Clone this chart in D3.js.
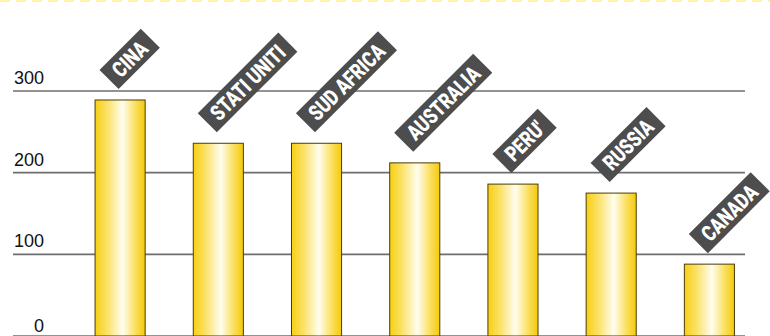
<!DOCTYPE html>
<html>
<head>
<meta charset="utf-8">
<script src="https://cdn.jsdelivr.net/npm/d3@7"></script>
<style>
  html, body { margin: 0; padding: 0; background: #fff; }
  svg { display: block; }
  .tick-label { font-family: "Liberation Sans", Arial, sans-serif; font-size: 18px; fill: #111; }
  .country { font-family: Roboto, "DejaVu Sans Condensed", sans-serif; font-weight: 900; font-size: 22px; fill: #fff; }
</style>
</head>
<body>
<div class="container"></div>
<script>
document.addEventListener('DOMContentLoaded', function(){

    // Data
    const countries = ["CINA", "STATI UNITI", "SUD AFRICA", "AUSTRALIA", "PERU'", "RUSSIA", "CANADA"]
    const values = [289, 236, 236, 212, 186, 175, 88]
    const yTicks = [0, 100, 200, 300]

    // Size of plot
    const width = 770
    const height = 336

    const svg = d3.select(".container")
        .append("svg")
        .attr("width", width)
        .attr("height", height)

    // gradient for the bars
    const defs = svg.append("defs")
    const grad = defs.append("linearGradient")
        .attr("id", "barGrad")
        .attr("x1", "0%").attr("x2", "100%")
        .attr("y1", "0%").attr("y2", "0%")
    grad.append("stop").attr("offset", "0%").attr("stop-color", "#f7cf12")
    grad.append("stop").attr("offset", "25%").attr("stop-color", "#fbe26a")
    grad.append("stop").attr("offset", "55%").attr("stop-color", "#fffdf0")
    grad.append("stop").attr("offset", "80%").attr("stop-color", "#fbe061")
    grad.append("stop").attr("offset", "100%").attr("stop-color", "#f5c90c")

    // dashed line at the very top
    svg.append("line")
        .attr("x1", 0).attr("x2", width)
        .attr("y1", 1).attr("y2", 1)
        .style("stroke", "#fff3a6")
        .style("stroke-width", 2)
        .style("stroke-dasharray", "10,6")

    // Scales
    const xScale = d3.scaleBand()
        .domain(countries)
        .range([71, 758.5])
        .paddingInner(0.49)
        .paddingOuter(0.245)

    const yScale = d3.scaleLinear()
        .domain([0, 300])
        .range([336, 91])

    // grid lines + labels
    const grid = svg.append("g").attr("id", "grid")
    grid.selectAll("line")
        .data(yTicks)
        .enter()
        .append("line")
            .attr("x1", 13)
            .attr("x2", 745)
            .attr("y1", d => yScale(d))
            .attr("y2", d => yScale(d))
            .style("stroke", "#6e6e6e")
            .style("stroke-width", 1.6)

    grid.selectAll("text")
        .data(yTicks)
        .enter()
        .append("text")
            .attr("class", "tick-label")
            .attr("x", 44)
            .attr("y", d => yScale(d) - (d === 0 ? 4 : 7))
            .attr("text-anchor", "end")
            .text(d => d)

    // bars
    svg.append("g")
        .attr("id", "bars")
        .selectAll("rect")
        .data(countries)
        .enter()
        .append("rect")
            .attr("x", d => xScale(d))
            .attr("y", (d, i) => yScale(values[i]))
            .attr("width", xScale.bandwidth())
            .attr("height", (d, i) => yScale(0) - yScale(values[i]))
            .style("fill", "url(#barGrad)")
            .style("stroke", "#4a3d05")
            .style("stroke-width", 1)

    // rotated dark labels above the bars
    const boxH = 27
    const pad = 9
    const squeeze = 0.78   // condensed look
    const labels = svg.append("g")
        .attr("id", "labels")
        .selectAll("g")
        .data(countries)
        .enter()
        .append("g")
            .attr("transform", (d, i) => `translate(${xScale(d) + xScale.bandwidth() / 2 - 1.5}, ${yScale(values[i]) - 11}) rotate(-45)`)

    labels.append("rect")
        .attr("x", 0)
        .attr("y", -boxH)
        .attr("height", boxH)
        .style("fill", "#4d4d4d")

    labels.append("text")
        .attr("class", "country")
        .attr("y", -boxH / 2)
        .attr("dy", "0.36em")
        .text(d => d)

    labels.each(function(){
        const g = d3.select(this)
        const t = g.select("text")
        const w = t.node().getComputedTextLength() * squeeze
        t.attr("x", pad / squeeze)
         .attr("transform", `scale(${squeeze}, 1)`)
        g.select("rect").attr("width", w + pad * 2)
    })

});
</script>
</body>
</html>
